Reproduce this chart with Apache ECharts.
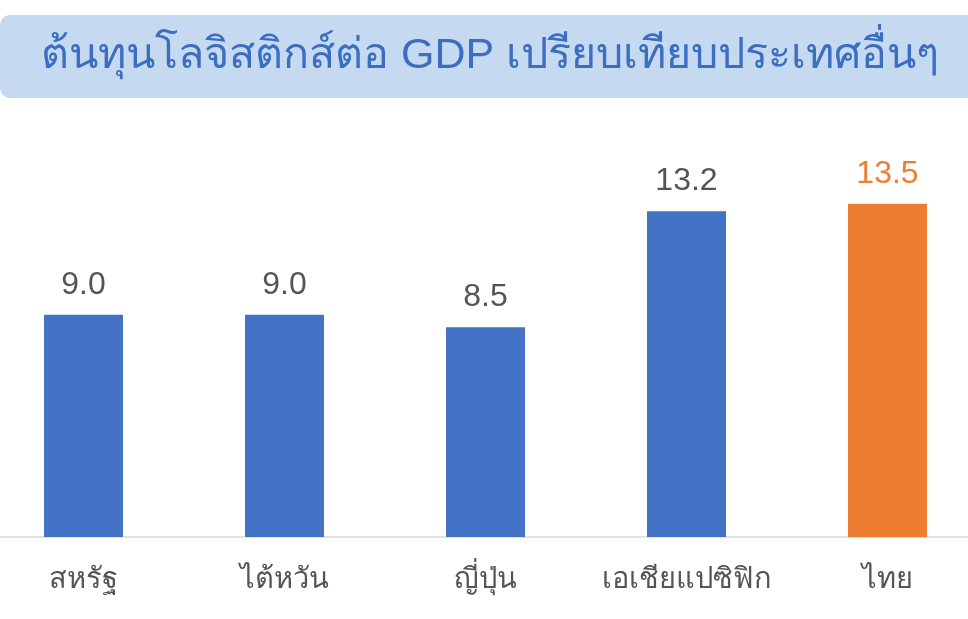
<!DOCTYPE html>
<html>
<head>
<meta charset="utf-8">
<script src="https://cdn.jsdelivr.net/npm/echarts@6/dist/echarts.min.js"></script>
<style>
  html, body { margin: 0; padding: 0; background: #fff; overflow: hidden; }
  /* กราฟกว้างกว่าหน้าจอเล็กน้อย แท่งแรกและแท่งสุดท้ายชิดขอบ */
  #chart { width: 1005px; height: 619px; margin-left: -17px; }
</style>
</head>
<body>
<div id="chart"></div>
<script>
// ข้อมูลกราฟ
const categories = ['สหรัฐ', 'ไต้หวัน', 'ญี่ปุ่น', 'เอเชียแปซิฟิก', 'ไทย'];
const values = [9.0, 9.0, 8.5, 13.2, 13.5];
const highlight = 'ไทย';

const BLUE = '#4472C4';
const ORANGE = '#ED7D31';

const myChart = echarts.init(document.getElementById('chart'));

const barData = values.map((v, i) => {
  const hot = categories[i] === highlight;
  return {
    value: v,
    itemStyle: { color: hot ? ORANGE : BLUE },
    label: { color: hot ? ORANGE : '#555555' }
  };
});

myChart.setOption({
  animation: false,
  graphic: [{
    type: 'rect',
    left: 17, top: 15,
    shape: { width: 1000, height: 83, r: 10 },
    style: { fill: '#C5DAF0' },
    z: 0
  }],
  title: {
    text: 'ต้นทุนโลจิสติกส์ต่อ GDP เปรียบเทียบประเทศอื่นๆ',
    left: 53, top: 30,
    textStyle: { color: '#3B6DC0', fontSize: 43, fontWeight: 'normal' },
    z: 10
  },
  grid: { left: 0, right: 0, top: 142, bottom: 82 },
  xAxis: {
    type: 'category',
    data: categories,
    axisLine: { lineStyle: { color: '#D9D9D9', width: 1.5 } },
    axisTick: { show: false },
    axisLabel: { color: '#555555', fontSize: 29, margin: 28, interval: 0 }
  },
  yAxis: {
    type: 'value',
    min: 0, max: 16,
    show: false,
    splitLine: { show: false }
  },
  series: [{
    type: 'bar',
    data: barData,
    barWidth: 79,
    label: {
      show: true,
      position: 'top',
      distance: 14,
      fontSize: 32,
      formatter: p => p.value.toFixed(1)
    }
  }]
});
</script>
</body>
</html>
